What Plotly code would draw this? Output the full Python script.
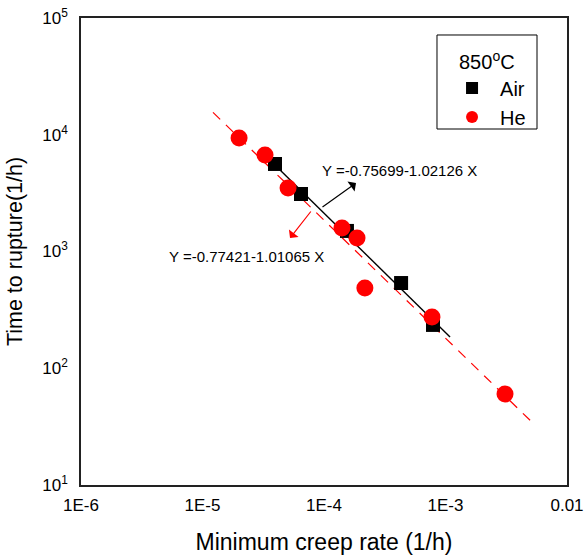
import numpy as np
import plotly.graph_objects as go

# Data
air_rate = [3.95e-5, 6.47e-5, 1.545e-4, 4.31e-4, 7.89e-4]
air_time = [5620, 3108, 1500, 537, 235]
he_rate = [2.0e-5, 3.27e-5, 5.06e-5, 1.406e-4, 1.87e-4, 2.17e-4, 7.74e-4, 3.09e-3]
he_time = [9380, 6710, 3500, 1590, 1305, 487, 275, 60.2]

# Linear fits in log-log space: log10(t) = a + b*log10(rate)
air_fit = (-0.75699, -1.02126)
he_fit = (-0.77421, -1.01065)
air_fit_range = [2.97e-5, 1.09e-3]
he_fit_range = [1.22e-5, 5.06e-3]

x_tickvals = [1e-6, 1e-5, 1e-4, 1e-3, 1e-2]
x_ticktext = ["1E-6", "1E-5", "1E-4", "1E-3", "0.01"]
y_tickvals = [1e1, 1e2, 1e3, 1e4, 1e5]
y_ticktext = ["10<sup>1</sup>", "10<sup>2</sup>", "10<sup>3</sup>", "10<sup>4</sup>", "10<sup>5</sup>"]


def fit_line(coef, rng, n=60):
    lx = np.linspace(np.log10(rng[0]), np.log10(rng[1]), n)
    return 10 ** lx, 10 ** (coef[0] + coef[1] * lx)


def minor_vals(lo, hi):
    return [k * 10.0 ** e for e in range(lo, hi) for k in range(2, 10)]


fig = go.Figure()

hx, hy = fit_line(he_fit, he_fit_range)
fig.add_trace(go.Scatter(x=hx, y=hy, mode="lines", showlegend=False,
                         line=dict(color="#FF0000", width=1.2, dash="10px,8px")))
ax_, ay_ = fit_line(air_fit, air_fit_range)
fig.add_trace(go.Scatter(x=ax_, y=ay_, mode="lines", showlegend=False,
                         line=dict(color="black", width=1.4)))

fig.add_trace(go.Scatter(x=air_rate, y=air_time, mode="markers", name="Air",
                         marker=dict(symbol="square", size=14, color="black")))
fig.add_trace(go.Scatter(x=he_rate, y=he_time, mode="markers", name="He",
                         marker=dict(symbol="circle", size=17, color="#FF0000")))

font_family = "Liberation Sans, Arial, sans-serif"

fig.update_layout(
    xaxis=dict(type="log", range=[-6, -2], tickmode="array",
               tickvals=x_tickvals, ticktext=x_ticktext, ticks="",
               showline=True, linecolor="#222", linewidth=1.5, mirror=True,
               showgrid=False, zeroline=False, automargin=False,
               tickfont=dict(size=17, color="black"), ticklabelstandoff=4,
               title=dict(text="Minimum creep rate (1/h)", font=dict(size=23, color="black"),
                          standoff=22)),
    yaxis=dict(type="log", range=[1, 5], tickmode="array", tickvals=y_tickvals,
               ticktext=y_ticktext, ticks="",
               showline=True, linecolor="#222", linewidth=1.5, mirror=True,
               showgrid=False, zeroline=False, automargin=False,
               tickfont=dict(size=17, color="black"), ticklabelstandoff=8,
               title=dict(text="Time to rupture(1/h)", font=dict(size=21.5, color="black"),
                          standoff=14)),
)

# inward tick marks on all four sides (majors 7px, minors 4px)
tick_style = dict(color="#222", width=1)
for vals, tl in ((x_tickvals, 7), (minor_vals(-6, -2), 4)):
    for v in vals:
        lv = float(np.log10(v))
        fig.add_shape(type="line", xref="x", yref="paper", ysizemode="pixel", yanchor=0,
                      x0=lv, x1=lv, y0=0, y1=tl, line=tick_style)
        fig.add_shape(type="line", xref="x", yref="paper", ysizemode="pixel", yanchor=1,
                      x0=lv, x1=lv, y0=0, y1=-tl, line=tick_style)
for vals, tl in ((y_tickvals, 7), (minor_vals(1, 5), 4)):
    for v in vals:
        lv = float(np.log10(v))
        fig.add_shape(type="line", xref="paper", yref="y", xsizemode="pixel", xanchor=0,
                      y0=lv, y1=lv, x0=0, x1=tl, line=tick_style)
        fig.add_shape(type="line", xref="paper", yref="y", xsizemode="pixel", xanchor=1,
                      y0=lv, y1=lv, x0=0, x1=-tl, line=tick_style)

# Arrows and fit equations
fig.add_annotation(x=-3.7366, y=3.5867, ax=-4.0247, ay=3.3726, xref="x", yref="y",
                   axref="x", ayref="y", text="", showarrow=True, arrowhead=1,
                   arrowsize=1.7, arrowwidth=1.2, arrowcolor="black")
fig.add_annotation(x=-4.2798, y=3.1156, ax=-4.0988, ay=3.3555, xref="x", yref="y",
                   axref="x", ayref="y", text="", showarrow=True, arrowhead=1,
                   arrowsize=1.7, arrowwidth=1.2, arrowcolor="#FF0000")
fig.add_shape(type="line", xref="x", yref="y", x0=-4.122, y0=3.3684, x1=-4.0700, y1=3.3384,
              line=dict(color="#FF0000", width=1.2))
fig.add_annotation(x=-4.033, y=3.698, xref="x", yref="y", text="Y =-0.75699-1.02126 X",
                   showarrow=False, xanchor="left", yanchor="middle",
                   font=dict(size=15, color="black"))
fig.add_annotation(x=-5.292, y=2.953, xref="x", yref="y", text="Y =-0.77421-1.01065 X",
                   showarrow=False, xanchor="left", yanchor="middle",
                   font=dict(size=15, color="black"))

# legend frame and heading
fig.add_shape(type="rect", xref="paper", yref="paper", x0=0.7325, x1=0.9383,
              y0=0.7623, y1=0.9636, line=dict(color="black", width=1),
              fillcolor="white", layer="above")
fig.add_annotation(x=0.8354, y=0.910, xref="paper", yref="paper", text="850<sup>o</sup>C",
                   showarrow=False, xanchor="center", yanchor="middle",
                   font=dict(size=20, color="black"))

fig.update_layout(
    width=584, height=555,
    margin=dict(l=81, r=17, t=18, b=70),
    paper_bgcolor="white", plot_bgcolor="white",
    font=dict(family=font_family, color="black"),
    legend=dict(x=0.747, y=0.892, xanchor="left", yanchor="top",
                bgcolor="rgba(0,0,0,0)", borderwidth=0,
                font=dict(size=20, color="black"),
                itemsizing="constant", tracegroupgap=0, itemwidth=46),
)

fig.write_html("out.html", config={"displayModeBar": False},
               post_script="document.body.style.margin='0';"
                           "document.body.style.overflow='hidden';")
